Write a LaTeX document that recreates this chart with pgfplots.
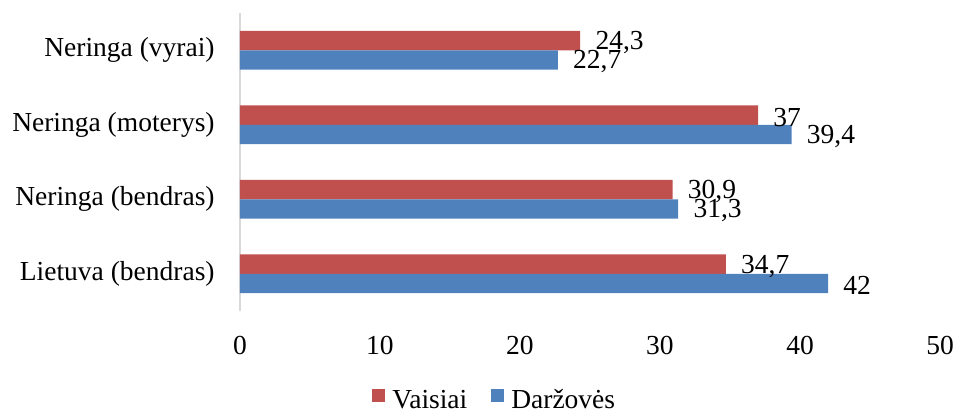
\documentclass[border=0pt]{standalone}
\usepackage{fontspec}
\setmainfont{Liberation Serif}
\usepackage{pgfplots}
\pgfplotsset{compat=1.18}
\definecolor{cred}{HTML}{C0504D}
\definecolor{cblue}{HTML}{4F81BD}
\definecolor{axgrey}{HTML}{D9D9D9}
\begin{document}
\fontsize{27.5bp}{33bp}\selectfont
\begin{tikzpicture}
\begin{axis}[
  scale only axis, width=700bp, height=298bp,
  xmin=0, xmax=50, ymin=-0.5, ymax=3.5,
  xtick={0,10,...,50}, ytick={0,1,2,3},
  yticklabels={Lietuva (bendras), Neringa (bendras), Neringa (moterys), Neringa (vyrai)},
  axis x line*=bottom, x axis line style={draw=none},
  axis y line*=left, y axis line style={draw=axgrey, line width=1.2bp},
  major tick length=0pt, tick style={draw=none},
  xticklabel style={yshift=-16bp},
  yticklabel style={xshift=-16bp},
  /pgf/number format/assume math mode=true,
  /pgf/number format/use comma,
  xbar, bar width=0.26,
  nodes near coords,
  nodes near coords style={anchor=west, xshift=6bp, yshift=-2bp, text=black},
  legend style={at={(0.364,-0.303)}, anchor=center, legend columns=2, draw=none, fill=none,
    inner sep=0pt,
    /tikz/every odd column/.append style={column sep=5bp},
    /tikz/every even column/.append style={column sep=22bp},
    cells={anchor=west}},
  legend image code/.code={\fill[#1,draw=none] (0bp,-1bp) rectangle (13bp,12bp);},
]
\addplot[fill=cred, draw=none, bar shift=0.13] coordinates {(34.7,0) (30.9,1) (37,2) (24.3,3)};
\addplot[fill=cblue, draw=none, bar shift=-0.13] coordinates {(42,0) (31.3,1) (39.4,2) (22.7,3)};
\legend{Vaisiai, Daržovės}
\end{axis}
\pgfresetboundingbox
\path ([xshift=-240bp,yshift=13bp]current axis.north west) rectangle ([xshift=17bp,yshift=-101bp]current axis.south east);
\end{tikzpicture}
\end{document}
